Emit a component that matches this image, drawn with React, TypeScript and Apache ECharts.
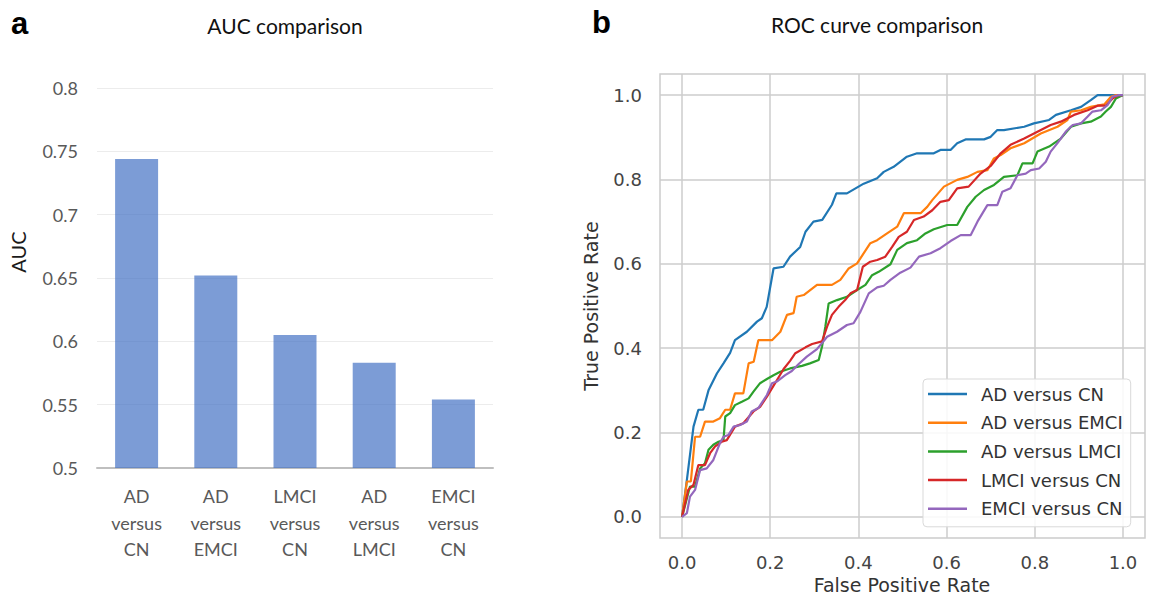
import React, { useEffect, useRef } from "react";
import * as echarts from "echarts";

// ---- Panel a: AUC comparison ----
const aucCategories = ["AD\nversus\nCN", "AD\nversus\nEMCI", "LMCI\nversus\nCN", "AD\nversus\nLMCI", "EMCI\nversus\nCN"];
const aucValues = [0.744, 0.652, 0.605, 0.583, 0.554];
const aucTicks = [0.5, 0.55, 0.6, 0.65, 0.7, 0.75, 0.8];

// ---- Panel b: ROC curves ([FPR, TPR]) ----
const rocNames = ["AD versus CN", "AD versus EMCI", "AD versus LMCI", "LMCI versus CN", "EMCI versus CN"];
const rocTicks = [0, 0.2, 0.4, 0.6, 0.8, 1.0];

const adVsCn = [[0,0],[0.011,0.088],[0.026,0.214],[0.037,0.254],[0.048,0.254],[0.06,0.3],[0.079,0.34],[0.094,0.364],[0.109,0.389],[0.12,0.419],[0.147,0.439],[0.17,0.463],[0.181,0.471],[0.192,0.498],[0.2075,0.589],[0.23,0.593],[0.245,0.617],[0.268,0.64],[0.28,0.676],[0.298,0.7],[0.318,0.704],[0.34,0.74],[0.35,0.767],[0.374,0.767],[0.412,0.79],[0.4425,0.803],[0.4575,0.818],[0.48,0.83],[0.51,0.854],[0.533,0.862],[0.571,0.862],[0.586,0.87],[0.609,0.87],[0.624,0.886],[0.643,0.895],[0.685,0.895],[0.7,0.901],[0.715,0.917],[0.73,0.917],[0.776,0.925],[0.798,0.933],[0.8325,0.941],[0.848,0.953],[0.882,0.964],[0.905,0.972],[0.927,0.988],[0.9425,1],[1,1]];
const adVsEmci = [[0,0],[0.011,0.084],[0.02,0.084],[0.0295,0.19],[0.041,0.19],[0.052,0.226],[0.071,0.226],[0.086,0.234],[0.098,0.254],[0.109,0.254],[0.12,0.293],[0.139,0.293],[0.151,0.364],[0.1625,0.368],[0.173,0.419],[0.204,0.419],[0.223,0.439],[0.238,0.479],[0.253,0.483],[0.26,0.522],[0.276,0.526],[0.306,0.55],[0.34,0.55],[0.359,0.562],[0.378,0.589],[0.397,0.601],[0.427,0.649],[0.4425,0.656],[0.465,0.672],[0.488,0.688],[0.503,0.72],[0.541,0.72],[0.556,0.735],[0.5675,0.751],[0.594,0.783],[0.624,0.799],[0.647,0.806],[0.67,0.818],[0.6925,0.822],[0.7075,0.85],[0.7227,0.858],[0.745,0.874],[0.776,0.886],[0.8136,0.909],[0.8515,0.925],[0.874,0.941],[0.882,0.961],[0.905,0.964],[0.927,0.972],[0.9575,0.978],[0.9727,0.996],[0.984,1],[1,1]];
const adVsLmci = [[0,0],[0.018,0.072],[0.0295,0.072],[0.041,0.115],[0.052,0.127],[0.06,0.159],[0.071,0.171],[0.0826,0.178],[0.094,0.182],[0.098,0.238],[0.109,0.246],[0.12,0.265],[0.1356,0.273],[0.151,0.281],[0.162,0.297],[0.177,0.317],[0.1925,0.327],[0.2075,0.336],[0.2227,0.344],[0.245,0.352],[0.272,0.358],[0.29,0.364],[0.31,0.372],[0.3175,0.404],[0.325,0.451],[0.3325,0.506],[0.3515,0.514],[0.374,0.522],[0.397,0.538],[0.416,0.55],[0.431,0.573],[0.446,0.581],[0.4727,0.599],[0.488,0.633],[0.51,0.649],[0.533,0.656],[0.552,0.672],[0.571,0.682],[0.6015,0.692],[0.624,0.692],[0.647,0.735],[0.666,0.759],[0.685,0.775],[0.7075,0.787],[0.73,0.806],[0.7606,0.81],[0.772,0.838],[0.795,0.838],[0.806,0.866],[0.8325,0.878],[0.859,0.897],[0.882,0.925],[0.905,0.933],[0.927,0.937],[0.95,0.949],[0.961,0.961],[0.9727,0.972],[0.984,0.992],[1,1]];
const lmciVsCn = [[0,0],[0.014,0.064],[0.026,0.076],[0.037,0.123],[0.052,0.123],[0.0636,0.151],[0.075,0.167],[0.09,0.178],[0.1015,0.182],[0.12,0.214],[0.139,0.222],[0.162,0.25],[0.177,0.261],[0.1925,0.285],[0.211,0.317],[0.23,0.35],[0.245,0.37],[0.257,0.388],[0.28,0.402],[0.295,0.41],[0.3175,0.416],[0.329,0.451],[0.34,0.479],[0.355,0.498],[0.37,0.514],[0.382,0.53],[0.397,0.538],[0.41,0.593],[0.427,0.605],[0.4425,0.609],[0.461,0.617],[0.4765,0.64],[0.4915,0.664],[0.51,0.676],[0.526,0.704],[0.548,0.712],[0.5675,0.727],[0.586,0.747],[0.605,0.751],[0.624,0.779],[0.65,0.783],[0.677,0.814],[0.7,0.832],[0.7227,0.862],[0.745,0.882],[0.776,0.897],[0.806,0.913],[0.836,0.929],[0.859,0.937],[0.889,0.953],[0.92,0.964],[0.9425,0.975],[0.961,0.975],[0.9765,0.992],[0.99,1],[1,1]];
const emciVsCn = [[0,0],[0.011,0.009],[0.018,0.048],[0.0295,0.064],[0.041,0.111],[0.056,0.115],[0.071,0.135],[0.086,0.175],[0.094,0.19],[0.105,0.194],[0.117,0.214],[0.132,0.218],[0.147,0.226],[0.158,0.25],[0.173,0.258],[0.1925,0.289],[0.204,0.317],[0.215,0.321],[0.234,0.336],[0.249,0.346],[0.264,0.362],[0.283,0.38],[0.306,0.398],[0.3175,0.412],[0.329,0.427],[0.3515,0.439],[0.374,0.455],[0.389,0.459],[0.4045,0.486],[0.4235,0.53],[0.4425,0.544],[0.4575,0.548],[0.4727,0.562],[0.495,0.579],[0.518,0.591],[0.5375,0.617],[0.5636,0.625],[0.586,0.637],[0.609,0.654],[0.632,0.668],[0.6545,0.668],[0.67,0.7],[0.6925,0.739],[0.715,0.739],[0.7265,0.771],[0.745,0.779],[0.7606,0.81],[0.7795,0.814],[0.791,0.822],[0.81,0.826],[0.825,0.842],[0.836,0.866],[0.8515,0.886],[0.87,0.913],[0.886,0.929],[0.905,0.933],[0.92,0.949],[0.931,0.961],[0.95,0.964],[0.965,0.976],[0.9765,0.996],[0.99,1],[1,1]];

const rocData = [adVsCn, adVsEmci, adVsLmci, lmciVsCn, emciVsCn];
const rocColors = ["#1f77b4", "#ff7f0e", "#2ca02c", "#d62728", "#9467bd"];

const CAL = "Lato, 'Open Sans', sans-serif";
const DV = "'DejaVu Sans', sans-serif";

export default function App() {
  const ref = useRef<HTMLDivElement>(null);
  useEffect(() => {
    if (!ref.current) return;
    const chart = echarts.init(ref.current, null, { renderer: "svg" });
    const option: any = {
      animation: false,
      backgroundColor: "#ffffff",
      grid: [
        { left: 97, right: 661, top: 88, bottom: 135 },
        { left: 660, right: 9, top: 74, bottom: 65, show: true, borderColor: "#cccccc", borderWidth: 1.5, backgroundColor: "transparent" },
      ],
      xAxis: [
        {
          type: "category",
          gridIndex: 0,
          data: aucCategories,
          axisTick: { show: false },
          axisLine: { lineStyle: { color: "#bfbfbf", width: 2 } },
          axisLabel: { color: "#595959", fontFamily: CAL, fontSize: 18, lineHeight: 26.5, margin: 15, interval: 0 },
        },
        {
          type: "value",
          gridIndex: 1,
          min: -0.05,
          max: 1.05,
          axisLine: { show: false },
          axisTick: { show: false, customValues: rocTicks },
          axisLabel: { customValues: rocTicks, color: "#444444", fontFamily: DV, fontSize: 18, margin: 15, formatter: (v: number) => v.toFixed(1) },
          splitLine: { show: true, lineStyle: { color: "#cccccc", width: 1.5 } },
        },
      ],
      yAxis: [
        {
          type: "value",
          gridIndex: 0,
          min: 0.5,
          max: 0.8,
          interval: 0.05,
          axisLine: { show: false },
          axisTick: { show: false },
          axisLabel: { color: "#595959", fontFamily: CAL, fontSize: 18, margin: 19, customValues: aucTicks, formatter: (v: number) => String(Math.round(v * 100) / 100) },
          splitLine: { lineStyle: { color: "#ececec", width: 1 } },
        },
        {
          type: "value",
          gridIndex: 1,
          min: -0.05,
          max: 1.05,
          axisLine: { show: false },
          axisTick: { show: false, customValues: rocTicks },
          axisLabel: { customValues: rocTicks, color: "#444444", fontFamily: DV, fontSize: 18, margin: 18, formatter: (v: number) => v.toFixed(1) },
          splitLine: { show: true, lineStyle: { color: "#cccccc", width: 1.5 } },
        },
      ],
      legend: {
        data: rocNames,
        orient: "vertical",
        left: 923,
        top: 379,
        padding: [5, 8, 8, 5],
        itemGap: 8.7,
        itemWidth: 39,
        itemHeight: 2.5,
        icon: "rect",
        backgroundColor: "rgba(255,255,255,0.85)",
        borderColor: "#d9d9d9",
        borderWidth: 1,
        borderRadius: 4,
        textStyle: { fontFamily: DV, fontSize: 18, color: "#333333", lineHeight: 20, padding: [0, 0, 0, 9] },
      },
      series: [
        {
          type: "bar",
          xAxisIndex: 0,
          yAxisIndex: 0,
          data: aucValues,
          barWidth: 43,
          itemStyle: { color: "rgba(68,114,196,0.7)" },
        },
        ...rocNames.map((name, i) => ({
          type: "line",
          name,
          xAxisIndex: 1,
          yAxisIndex: 1,
          data: rocData[i],
          showSymbol: false,
          symbol: "none",
          color: rocColors[i],
          lineStyle: { color: rocColors[i], width: 2.2 },
        })),
      ],
      graphic: [
        { type: "text", x: 11, y: 23, style: { text: "a", font: "bold 31px 'Liberation Sans', Arial, sans-serif", fill: "#000", align: "left", verticalAlign: "middle" } },
        { type: "text", x: 592, y: 22, style: { text: "b", font: "bold 31px 'Liberation Sans', Arial, sans-serif", fill: "#000", align: "left", verticalAlign: "middle" } },
        { type: "text", x: 285, y: 25, style: { text: "AUC comparison", font: `21px ${CAL}`, fill: "#111111", align: "center", verticalAlign: "middle" } },
        { type: "text", x: 877, y: 24, style: { text: "ROC curve comparison", font: `21px ${CAL}`, fill: "#111111", align: "center", verticalAlign: "middle" } },
        { type: "text", x: 18, y: 252, rotation: Math.PI / 2, style: { text: "AUC", font: `20px ${CAL}`, fill: "#1a1a1a", align: "center", verticalAlign: "middle" } },
        { type: "text", x: 591, y: 306, rotation: Math.PI / 2, style: { text: "True Positive Rate", font: `19px ${DV}`, fill: "#333333", align: "center", verticalAlign: "middle" } },
        { type: "text", x: 902, y: 585, style: { text: "False Positive Rate", font: `19px ${DV}`, fill: "#333333", align: "center", verticalAlign: "middle" } },
      ],
    };
    chart.setOption(option);
    return () => chart.dispose();
  }, []);
  return <div ref={ref} style={{ position: "fixed", left: 0, top: 0, width: 1154, height: 603, background: "#fff" }} />;
}
